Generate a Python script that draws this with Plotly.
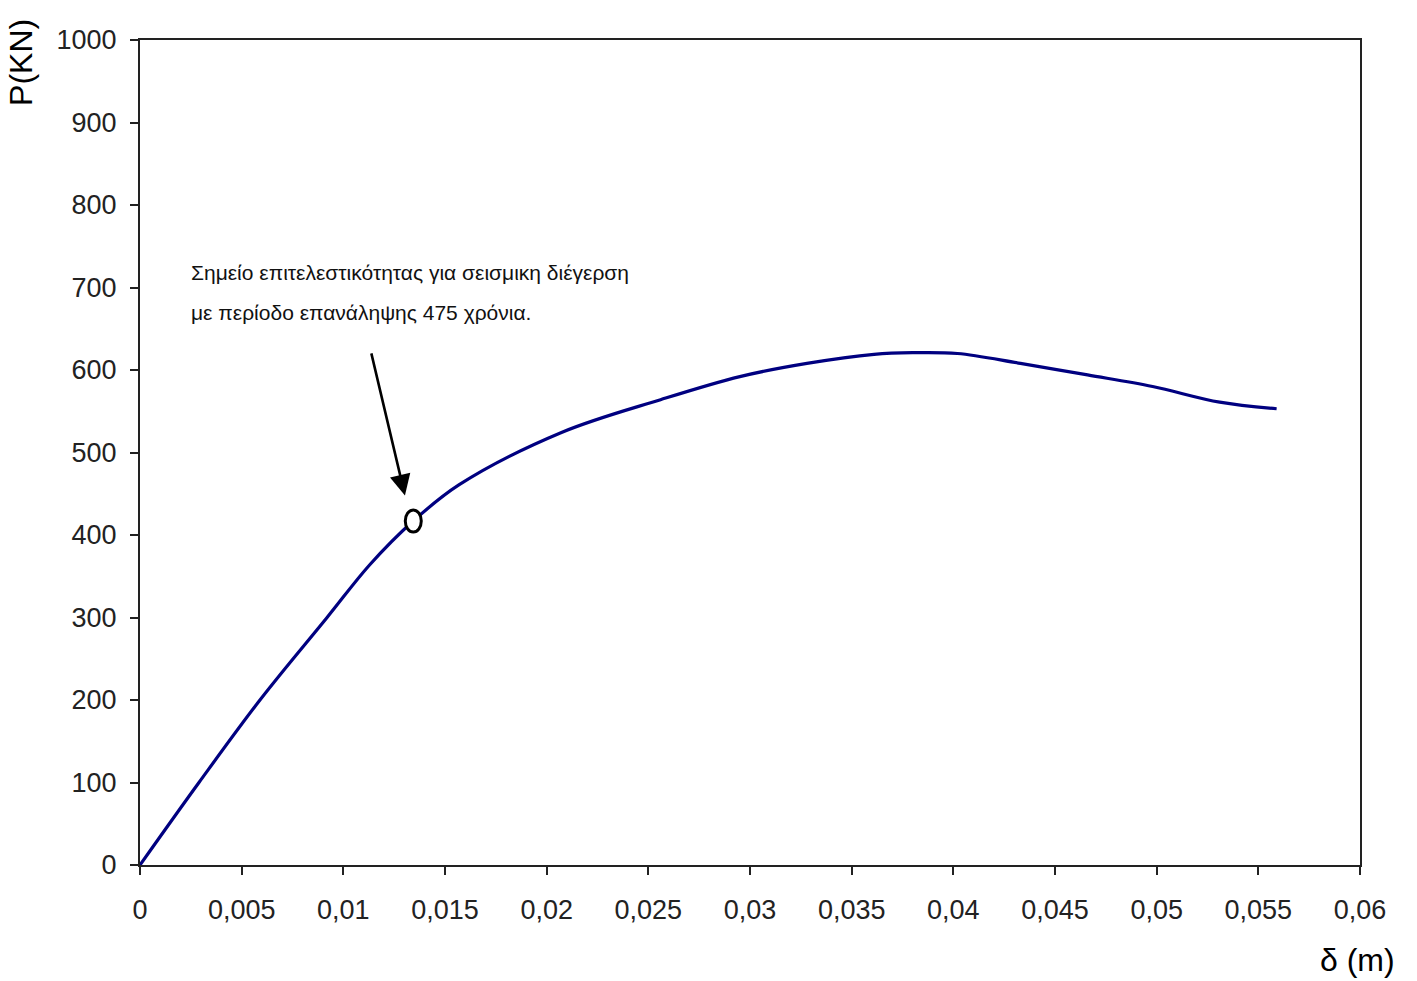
import plotly.graph_objects as go

# Pushover curve: displacement (m) vs base shear (kN)
delta_m = [0.0, 0.0029, 0.0059, 0.0092, 0.0113, 0.01344, 0.0157, 0.0207,
           0.0256, 0.0295, 0.0328, 0.0361, 0.0380, 0.0402, 0.0433, 0.0466,
           0.0498, 0.0531, 0.0559]
force_kn = [0, 100, 200, 300, 364, 417, 461, 524,
            564, 592, 608, 619, 621, 620, 608, 594,
            580, 561, 553]

# Performance point for the 475-year seismic excitation
perf_delta = 0.01344
perf_force = 417

# Arrow pointing to the performance point (tail -> head)
arrow_tail = (0.01136, 622)
arrow_head = (0.01303, 448)

x_ticks = [0, 0.005, 0.01, 0.015, 0.02, 0.025, 0.03, 0.035, 0.04, 0.045, 0.05, 0.055, 0.06]
x_tick_text = ["0", "0,005", "0,01", "0,015", "0,02", "0,025", "0,03", "0,035", "0,04",
               "0,045", "0,05", "0,055", "0,06"]
y_ticks = [0, 100, 200, 300, 400, 500, 600, 700, 800, 900, 1000]

note_lines = ["Σημείο επιτελεστικότητας για σεισμικη διέγερση",
              "με περίοδο επανάληψης 475 χρόνια."]
note_y = [718, 670]

FONT = "Liberation Sans, Arial, sans-serif"

fig = go.Figure()
fig.add_trace(go.Scatter(
    x=delta_m, y=force_kn, mode="lines",
    line=dict(color="#000080", width=3.2, shape="spline", smoothing=1.0),
    hoverinfo="x+y", showlegend=False,
))

# open ellipse marking the performance point
fig.add_shape(
    type="circle", xref="x", yref="y",
    xsizemode="pixel", ysizemode="pixel",
    xanchor=perf_delta, yanchor=perf_force,
    x0=-8, x1=8, y0=-11, y1=11,
    line=dict(color="black", width=3), fillcolor="white",
)

fig.add_annotation(
    x=arrow_head[0], y=arrow_head[1], ax=arrow_tail[0], ay=arrow_tail[1],
    xref="x", yref="y", axref="x", ayref="y",
    showarrow=True, arrowhead=2, arrowsize=1.6, arrowwidth=2.6, arrowcolor="black",
    text="",
)

for line_text, ly in zip(note_lines, note_y):
    fig.add_annotation(
        x=0.0024, y=ly, xref="x", yref="y", xanchor="left", yanchor="middle",
        text=line_text, showarrow=False, align="left",
        font=dict(family=FONT, size=21, color="#111"),
    )

fig.add_annotation(
    x=-0.097, y=0.973, xref="paper", yref="paper", xanchor="center", yanchor="middle",
    text="P(KN)", textangle=-90, showarrow=False,
    font=dict(family=FONT, size=32, color="black"),
)
fig.add_annotation(
    x=0.998, y=-0.115, xref="paper", yref="paper", xanchor="center", yanchor="middle",
    text="δ (m)", showarrow=False,
    font=dict(family=FONT, size=32, color="black"),
)

axis_common = dict(
    showgrid=False, zeroline=False, showline=True, linecolor="#222", linewidth=2,
    mirror=True, ticks="outside", ticklen=8, tickwidth=2, tickcolor="#222",
    tickfont=dict(family=FONT, size=27, color="#222"),
)

fig.update_xaxes(range=[0, 0.06], tickvals=x_ticks, ticktext=x_tick_text,
                 ticklabelstandoff=12, **axis_common)
fig.update_yaxes(range=[0, 1000], tickvals=y_ticks, ticklabelstandoff=8, **axis_common)

fig.update_layout(
    width=1417, height=981,
    margin=dict(l=140, r=57, t=40, b=116),
    paper_bgcolor="white", plot_bgcolor="white",
)

fig.write_html("out.html")
